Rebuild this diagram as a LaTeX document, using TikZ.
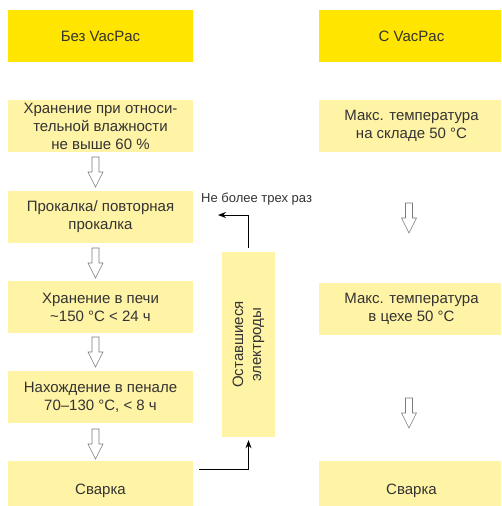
\documentclass[tikz,border=0pt]{standalone}
\usepackage{fontspec}
\setmainfont{Liberation Sans}
\usetikzlibrary{arrows.meta}
\definecolor{headfill}{HTML}{FFE500}
\definecolor{stepfill}{HTML}{FFF3A6}
\definecolor{ink}{HTML}{333333}
\definecolor{arrowgray}{HTML}{7A7A7A}

\begin{document}
\begin{tikzpicture}[x=1pt,y=-1pt,
  head/.style={fill=headfill,inner sep=0pt,minimum width=185pt,minimum height=52pt,text=ink,font=\fontsize{15}{18}\selectfont,align=center},
  stepbox/.style={fill=stepfill,inner sep=0pt,minimum width=185pt,minimum height=52pt,text=ink,font=\fontsize{15}{18}\selectfont,align=center},
  note/.style={text=ink,inner sep=0pt,font=\fontsize{13}{15}\selectfont},
  loopline/.style={draw=black,line width=0.8pt,-{Stealth[length=8pt,width=6pt]}},
  blockdown/.pic={\draw[arrowgray,line width=0.6pt,fill=white] (-3.5,0) -- (3.5,0) -- (3.5,15) -- (7.5,15) -- (0,30) -- (-7.5,15) -- (-3.5,15) -- cycle;}]
\useasboundingbox (0,0) rectangle (501,506);
\begin{scope}
\clip (0,0) rectangle (501,506);
\node[head] (without) at (100.5,36) {Без VacPac};
\node[head] (with) at (411.5,36) {С VacPac};
\node[stepbox] (humid) at (100.5,126) {Хранение при относи-\\тельной влажности\\не выше 60 \%};
\node[stepbox] (bake) at (100.5,217) {Прокалка/ повторная\\прокалка};
\node[stepbox] (oven) at (100.5,307) {Хранение в печи\\\textasciitilde150 °C < 24 ч};
\node[stepbox] (quiver) at (100.5,397) {Нахождение в пенале\\70–130 °C, < 8 ч};
\node[stepbox,minimum height=60pt] (weldL) at (100.5,491) {Сварка};
\node[stepbox] (store) at (411.5,126) {Макс. температура\\на складе 50 °C};
\node[stepbox] (shop) at (411.5,309) {Макс. температура\\в цехе 50 °C};
\node[stepbox,minimum height=60pt] (weldR) at (411.5,491) {Сварка};
\end{scope}
\node[stepbox,rotate=90,minimum width=185pt,minimum height=53pt] (rest) at (248.5,344.5) {Оставшиеся\\электроды};
\node[note,anchor=west] (limit) at (201,199) {Не более трех раз};
\coordinate (loopstart) at (199,469);
\coordinate (loopend) at (218,215);
\pic at (95.5,157) {blockdown};
\pic at (95.5,248) {blockdown};
\pic at (95.5,337) {blockdown};
\pic at (95.5,429) {blockdown};
\pic at (409,203) {blockdown};
\pic at (409,398) {blockdown};
\draw[loopline,shorten >=3pt] (loopstart) -| (rest.west);
\draw[loopline,shorten <=4pt] (rest.east) |- (loopend);
\end{tikzpicture}
\end{document}
